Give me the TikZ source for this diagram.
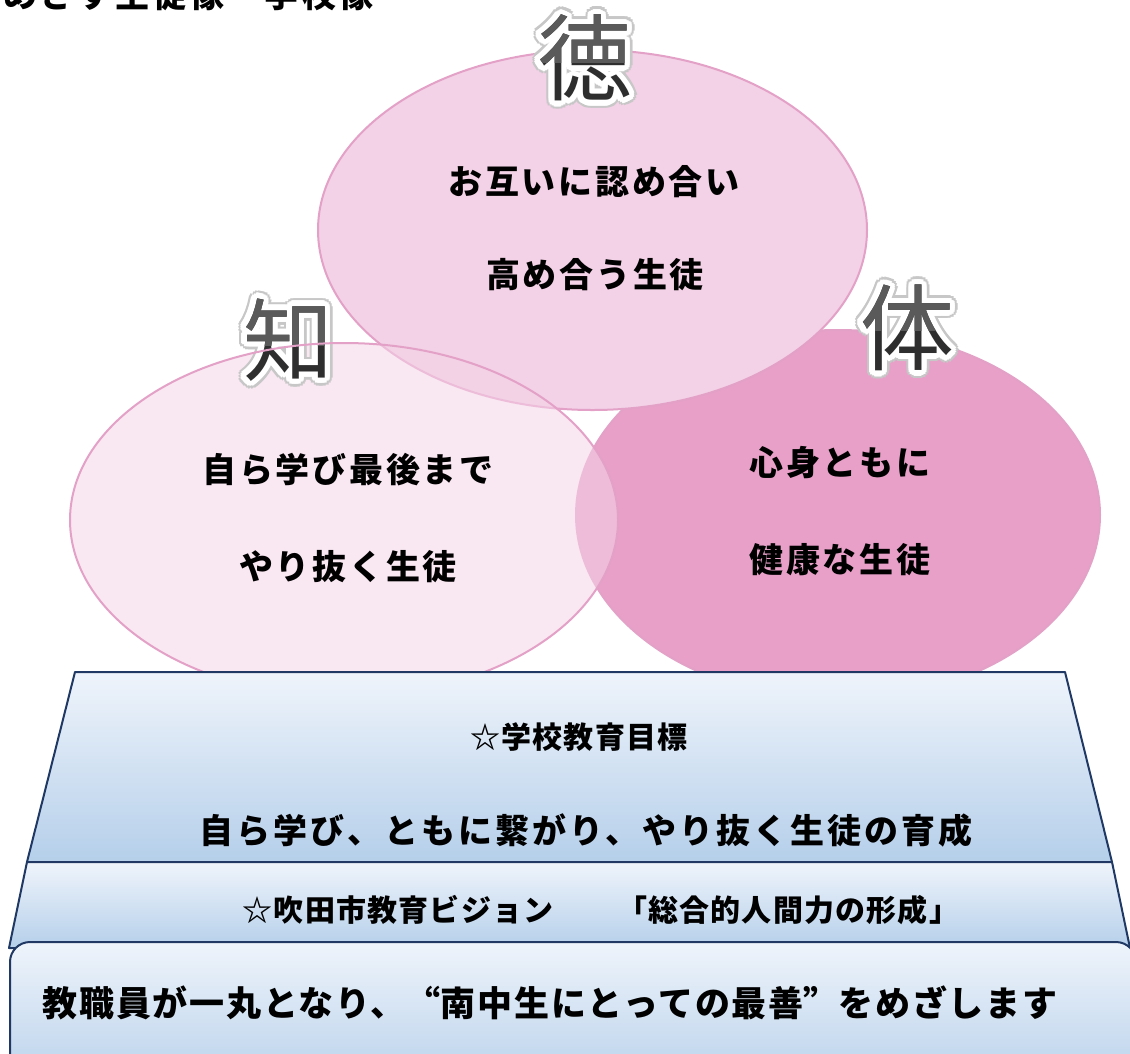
\documentclass[tikz,border=0pt]{standalone}
\usepackage{fontspec}
\newfontfamily\jp{Noto Sans CJK JP}
\definecolor{pinkline}{HTML}{E3A1C7}
\definecolor{topfill}{HTML}{F3D1E6}
\definecolor{rightfill}{HTML}{E8A0C8}
\definecolor{leftbase}{HTML}{F4D3E6}
\definecolor{navy}{HTML}{1F3864}
\definecolor{bluetop}{HTML}{EFF4FB}
\definecolor{bluebot}{HTML}{B5CFEA}
\definecolor{kdark}{HTML}{2E2E2E}
\definecolor{klight}{HTML}{5A5A5A}
\tikzset{
  ell/.style={draw=pinkline, line width=2pt},
  tier/.style={draw=navy, line width=2pt, top color=bluetop, bottom color=bluebot, line join=round},
  kanfont/.style={inner sep=0pt, font=\jp\fontsize{#1}{#1}\selectfont},
  lbl/.style={inner sep=0pt, text=black, font=\jp\bfseries\fontsize{34}{38}\selectfont\addfontfeature{LetterSpace=8}},
}
\newcommand\fwq[1]{{\addfontfeature{RawFeature=+fwid}#1}}
\newcommand\bigkan[6]{%
  \foreach \a [count=\i] in {0,20,...,340}{
    \node[kanfont=#5, text=black!22] (#1sh\i) at ([shift={(\a:8)}]#2,#3) {#4};
  }
  \foreach \a [count=\i] in {0,20,...,340}{
    \node[kanfont=#5, text=white] (#1wa\i) at ([shift={(\a:5.5)}]#2,#3) {#4};
    \node[kanfont=#5, text=white] (#1wb\i) at ([shift={(\a:2.8)}]#2,#3) {#4};
  }
  \node[kanfont=#5, text=kdark] (#1) at (#2,#3) {#4};
  \begin{scope}
    \clip (#2-90,#3-90) rectangle (#2+90,#6);
    \node[kanfont=#5, text=klight] (#1u) at (#2,#3) {#4};
  \end{scope}
}
\begin{document}
\begin{tikzpicture}[x=1pt,y=-1pt]
\useasboundingbox (0,0) rectangle (1130,1053);
% title (cut off at top)
\node[inner sep=0pt, anchor=base west, font=\jp\bfseries\fontsize{34}{38}\selectfont\addfontfeature{LetterSpace=10}] (title) at (3,7.5) {めざす生徒像・学校像};
% ellipses
\draw[ell, fill=rightfill] (838,515) ellipse [x radius=262, y radius=185];
\draw[ell, fill=topfill] (592.5,230) ellipse [x radius=274.5, y radius=180];
\fill[leftbase, fill opacity=.55] (344,520) ellipse [x radius=274, y radius=177];
\bigkan{chi}{288}{340}{知}{90}{345}
\draw[ell] (344,520) ellipse [x radius=274, y radius=177];
\bigkan{toku}{585}{58}{徳}{94}{62}
\bigkan{tai}{907}{328}{体}{94}{330}
% ellipse texts
\node[lbl] (t1) at (594,182) {お互いに認め合い};
\node[lbl] (t2) at (595,275) {高め合う生徒};
\node[lbl] (l1) at (348,470) {自ら学び最後まで};
\node[lbl] (l2) at (348,567) {やり抜く生徒};
\node[lbl] (r1) at (840,463) {心身ともに};
\node[lbl] (r2) at (840,560) {健康な生徒};
% tiers
\draw[tier] (75,672) -- (1065,672) -- (1112,862) -- (27,862) -- cycle;
\draw[tier] (27,862) -- (1112,862) -- (1130,948) -- (9,948) -- cycle;
\draw[tier, rounded corners=20pt] (10,942) rectangle (1136,1095);
\node[inner sep=0pt, font=\jp\bfseries\fontsize{30}{34}\selectfont\addfontfeature{LetterSpace=4}] (goalh) at (579,737) {☆学校教育目標};
\node[inner sep=0pt, font=\jp\bfseries\fontsize{34}{38}\selectfont\addfontfeature{LetterSpace=9}] (goal) at (586,830) {自ら学び、ともに繋がり、やり抜く生徒の育成};
\node[inner sep=0pt, font=\jp\bfseries\fontsize{30}{34}\selectfont\addfontfeature{LetterSpace=4}] (vision) at (601,910) {☆吹田市教育ビジョン　　「総合的人間力の形成」};
\node[inner sep=0pt, font=\jp\bfseries\fontsize{35}{38}\selectfont\addfontfeature{LetterSpace=5}] (motto) at (550,1003) {教職員が一丸となり、\fwq{“}南中生にとっての最善\fwq{”}をめざします};
\end{tikzpicture}
\end{document}
